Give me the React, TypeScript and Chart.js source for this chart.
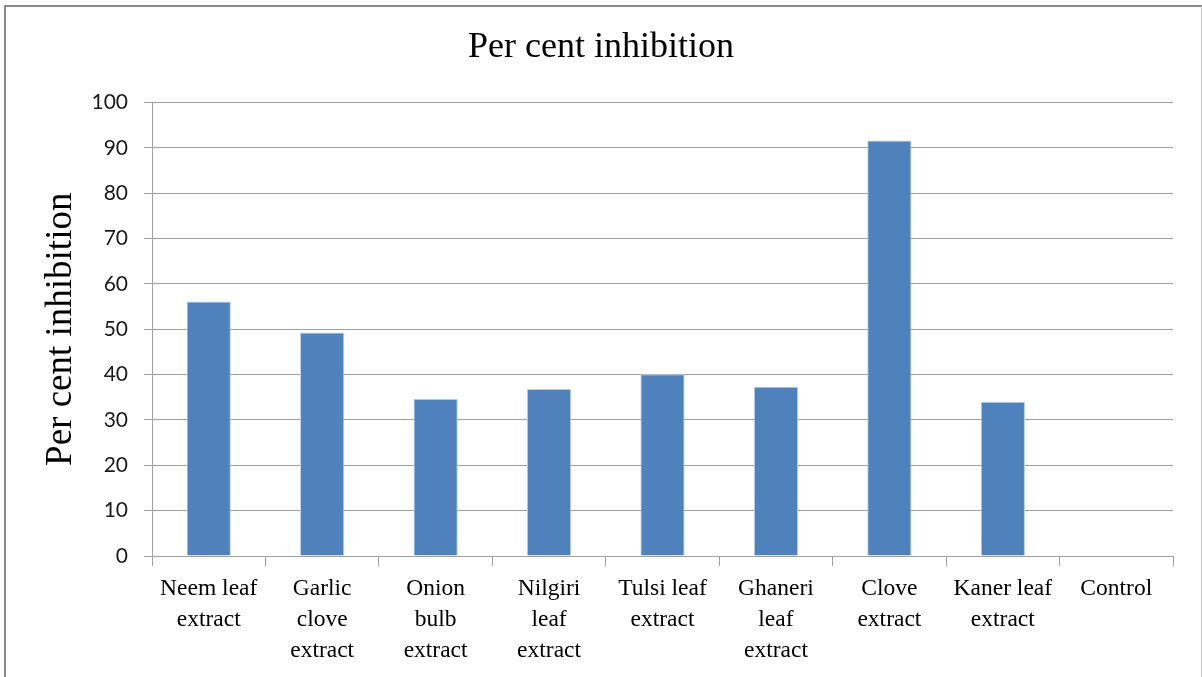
import React, { useEffect, useRef } from "react";
import { Chart, registerables } from "chart.js";

Chart.register(...registerables);

// Treatments along the x axis (each entry is split over lines)
const categories: string[][] = [
  ["Neem leaf", "extract"],
  ["Garlic", "clove", "extract"],
  ["Onion", "bulb", "extract"],
  ["Nilgiri", "leaf", "extract"],
  ["Tulsi leaf", "extract"],
  ["Ghaneri", "leaf", "extract"],
  ["Clove", "extract"],
  ["Kaner leaf", "extract"],
  ["Control"],
];

// Per cent inhibition for each treatment
const inhibition: number[] = [56.1, 49.3, 34.6, 36.8, 40.1, 37.3, 91.6, 34.0, 0];

const chartTitle = "Per cent inhibition";
const yAxisTitle = "Per cent inhibition";
const yMin = 0;
const yMax = 100;
const yStep = 10;

const SERIF = "'Liberation Serif', 'Times New Roman', serif";
const SANS = "Lato, 'Liberation Sans', sans-serif";

export default function App() {
  const canvasRef = useRef<HTMLCanvasElement | null>(null);

  useEffect(() => {
    const canvas = canvasRef.current;
    if (!canvas) return;
    const chart = new Chart(canvas, {
      type: "bar",
      data: {
        labels: categories,
        datasets: [
          {
            label: chartTitle,
            data: inhibition,
            backgroundColor: "#4F81BD",
            borderColor: "#B8CCE4",
            borderWidth: 1,
            borderSkipped: "bottom",
            barPercentage: 0.39,
            categoryPercentage: 1,
          },
        ],
      },
      options: {
        responsive: false,
        animation: false,
        layout: { padding: { left: 0, right: 0, top: 0, bottom: 0 } },
        plugins: {
          legend: { display: false },
          tooltip: { enabled: false },
          title: {
            display: true,
            text: chartTitle,
            color: "#000",
            font: { family: SERIF, size: 36, weight: "normal", lineHeight: 1.2 },
            padding: { top: 26.4, bottom: 32.9 },
          },
        },
        scales: {
          x: {
            grid: {
              offset: true,
              drawOnChartArea: false,
              drawTicks: true,
              tickLength: 10,
              color: "#a0a0a0",
            },
            border: { display: true, color: "#a0a0a0" },
            ticks: {
              color: "#000",
              font: { family: SERIF, size: 23.5, lineHeight: "31px" },
              padding: 7.5,
              maxRotation: 0,
              minRotation: 0,
              autoSkip: false,
            },
            afterFit: (scale: any) => {
              scale.height = 121;
            },
          },
          y: {
            min: yMin,
            max: yMax,
            grid: {
              color: "#a0a0a0",
              lineWidth: 1,
              tickLength: 8,
            },
            border: { display: true, color: "#a0a0a0" },
            ticks: {
              stepSize: yStep,
              color: "#1a1a1a",
              font: { family: SANS, size: 21 },
              padding: 16,
            },
            title: {
              display: true,
              text: yAxisTitle,
              color: "#000",
              font: { family: SERIF, size: 37, weight: "normal", lineHeight: 1.2 },
              padding: { top: 38.8, bottom: 0 },
            },
            afterFit: (scale: any) => {
              scale.width = 152;
            },
          },
          // empty right-hand margin so the title stays centred on the whole canvas
          yRight: {
            position: "right",
            display: true,
            grid: { display: false, drawTicks: false },
            border: { display: false },
            ticks: { display: false },
            afterFit: (scale: any) => {
              scale.width = 29;
            },
          },
        },
      },
    });
    return () => chart.destroy();
  }, []);

  return (
    <div
      style={{
        position: "fixed",
        left: 0,
        top: 0,
        width: 1202,
        height: 677,
        overflow: "hidden",
        background: "#fff",
      }}
    >
      <canvas
        ref={canvasRef}
        width={1202}
        height={677}
        style={{ position: "absolute", left: 0, top: 0, width: 1202, height: 677 }}
      />
      <div
        style={{
          position: "absolute",
          left: 4,
          top: 5,
          width: 1198,
          height: 720,
          boxSizing: "border-box",
          borderLeft: "2px solid #8a8a8a",
          borderTop: "2px solid #8a8a8a",
          borderRight: "1px solid #c8c8c8",
          pointerEvents: "none",
        }}
      />
    </div>
  );
}
